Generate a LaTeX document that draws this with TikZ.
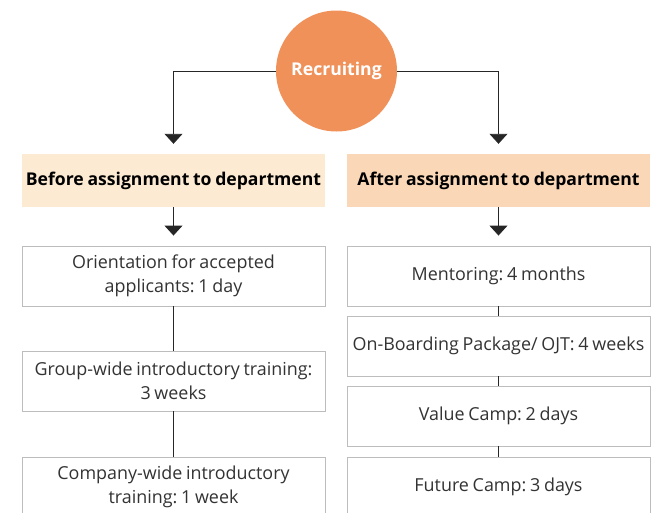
\documentclass[tikz,border=0pt]{standalone}
\usepackage{fontspec}
\setmainfont{Open Sans}[WordSpace=0.8]
\frenchspacing
\usetikzlibrary{positioning,arrows.meta}
\definecolor{recorange}{HTML}{F0915A}
\definecolor{beforefill}{HTML}{FDEAD2}
\definecolor{afterfill}{HTML}{F9D7B7}
\definecolor{boxline}{HTML}{BDBDBD}
\definecolor{boxtext}{HTML}{333333}

\begin{document}
\begin{tikzpicture}[x=1pt,y=-1pt,
  >={Triangle[width=18pt,length=10pt]},
  head/.style={minimum width=303pt,minimum height=53pt,inner sep=0pt,font=\fontsize{17.6}{20}\selectfont\bfseries},
  stage/.style={draw=boxline,line width=0.9pt,fill=white,minimum width=303pt,minimum height=60pt,inner sep=0pt,align=center,text=boxtext,font=\fontsize{17.9}{24}\selectfont},
  link/.style={line width=0.9pt,draw=black!85}]
\useasboundingbox (0,0) rectangle (659,512);
\node[circle,fill=recorange,minimum size=121pt,inner sep=0pt,text=white,font=\fontsize{17.6}{20}\selectfont\bfseries] (rec) at (336.5,71) {Recruiting};
\node[head,fill=beforefill] (before) at (173.5,180.5) {Before assignment to department};
\node[head,fill=afterfill] (after) at (498.5,180.5) {After assignment to department};
% before assignment
\node[stage] (orient) at (173.5,276) {Orientation for accepted\\applicants: 1 day};
\node[stage] (group) at (173.5,381) {Group-wide introductory training:\\3 weeks};
\node[stage] (company) at (173.5,487) {Company-wide introductory\\training: 1 week};
% after assignment
\node[stage] (mentor) at (498.5,276) {Mentoring: 4 months};
\node[stage] (onboard) at (498.5,346) {On-Boarding Package/ OJT: 4 weeks};
\node[stage] (value) at (498.5,416) {Value Camp: 2 days};
\node[stage] (future) at (498.5,487) {Future Camp: 3 days};

\draw[link,->,shorten >=10pt] (rec.west) -| (before.north);
\draw[link,->,shorten >=10pt] (rec.east) -| (after.north);
\draw[link,->,shorten >=10pt] (before) -- (orient);
\draw[link,->,shorten >=10pt] (after) -- (mentor);
\draw[link] (orient) -- (group);
\draw[link] (group) -- (company);
\draw[link] (mentor) -- (onboard);
\draw[link] (onboard) -- (value);
\draw[link] (value) -- (future);
\end{tikzpicture}
\end{document}
